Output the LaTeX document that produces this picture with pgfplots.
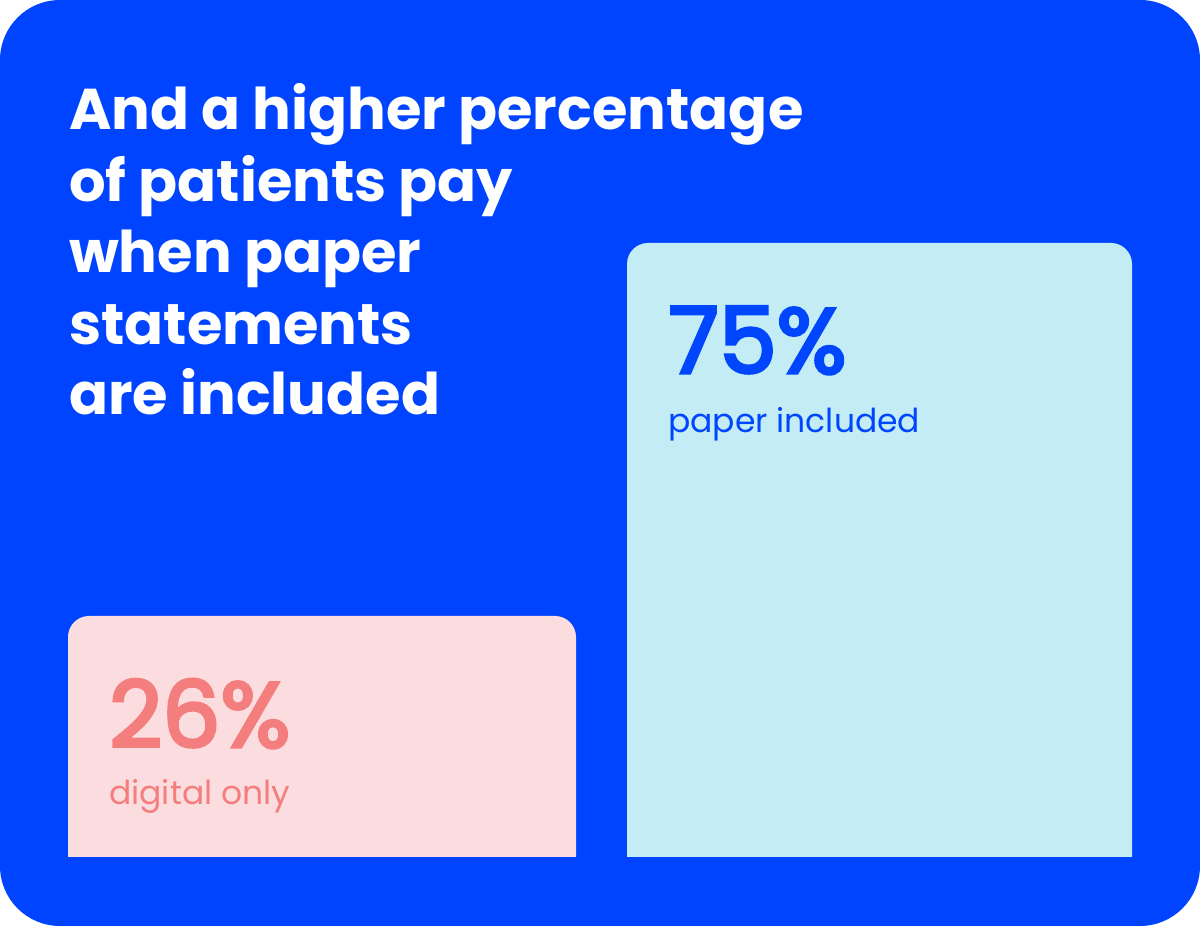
\documentclass[border=0pt]{standalone}
\usepackage{fontspec}
\setmainfont{Poppins}
\newfontfamily\numfont{Poppins}[FakeBold=3.5]
\usepackage{pgfplots}
\usepackage{pgfplotstable}
\pgfplotsset{compat=1.18}

\definecolor{bgblue}{HTML}{0044FF}
\definecolor{pinkbar}{HTML}{FCDDDF}
\definecolor{pinktext}{HTML}{F47E7E}
\definecolor{cyanbar}{HTML}{C4ECF5}
\definecolor{bluetext}{HTML}{0046FF}

% share of patients who pay
\pgfplotstableread{
x v
0 26
}\digitalonly
\pgfplotstableread{
x v
1 75
}\paperincl

\begin{document}
\begin{tikzpicture}[x=1bp, y=1bp]
  % card background
  \fill[bgblue, rounded corners=60bp] (0,0) rectangle (1200,926);
  \useasboundingbox (0,0) rectangle (1200,926);

  % title, one node per line
  \begin{scope}[every node/.style={anchor=base west, text=white, inner sep=0pt,
      font=\fontsize{57.5bp}{71bp}\selectfont\bfseries}]
    \node at (69,796) {And a higher percentage};
    \node at (69,724.5) {of patients pay};
    \node at (69,653) {when paper};
    \node at (69,581.5) {statements};
    \node at (69,511) {are included};
  \end{scope}

  % bars start below the card edge line and are cut there, so only the tops are round
  \begin{scope}
    \clip (0,69) rectangle (1200,926);
    \begin{axis}[
        at={(68bp,-7.12bp)}, anchor=south west,
        scale only axis,
        x=557.5bp, y=7.6122bp,
        xmin=-0.4556, xmax=1.4529,
        ymin=0, ymax=102,
        hide axis,
        point meta=explicit,
        nodes near coords={\pgfmathprintnumber[assume math mode=true]{\pgfplotspointmeta}\%},
        every node near coord/.append style={anchor=base west, inner sep=0pt,
          font=\fontsize{92bp}{92bp}\selectfont\numfont},
      ]
      \addplot[ybar, bar shift=0pt, bar width=508bp, fill=pinkbar, draw=none,
        rounded corners=21bp,
        every node near coord/.append style={text=pinktext, xshift=-213bp, yshift=-131bp}]
        table[x=x, y expr=\thisrow{v}+15.66, meta=v] {\digitalonly};
      \addplot[ybar, bar shift=0pt, bar width=505bp, fill=cyanbar, draw=none,
        rounded corners=21bp,
        every node near coord/.append style={text=bluetext, xshift=-211bp, yshift=-130bp}]
        table[x=x, y expr=\thisrow{v}+15.66, meta=v] {\paperincl};
    \end{axis}
  \end{scope}

  % bar captions
  \node[anchor=base west, inner sep=0pt, text=pinktext, font=\fontsize{33bp}{33bp}\selectfont]
    at (109,121) {digital only};
  \node[anchor=base west, inner sep=0pt, text=bluetext, font=\fontsize{33bp}{33bp}\selectfont]
    at (668,493) {paper included};
\end{tikzpicture}
\end{document}
